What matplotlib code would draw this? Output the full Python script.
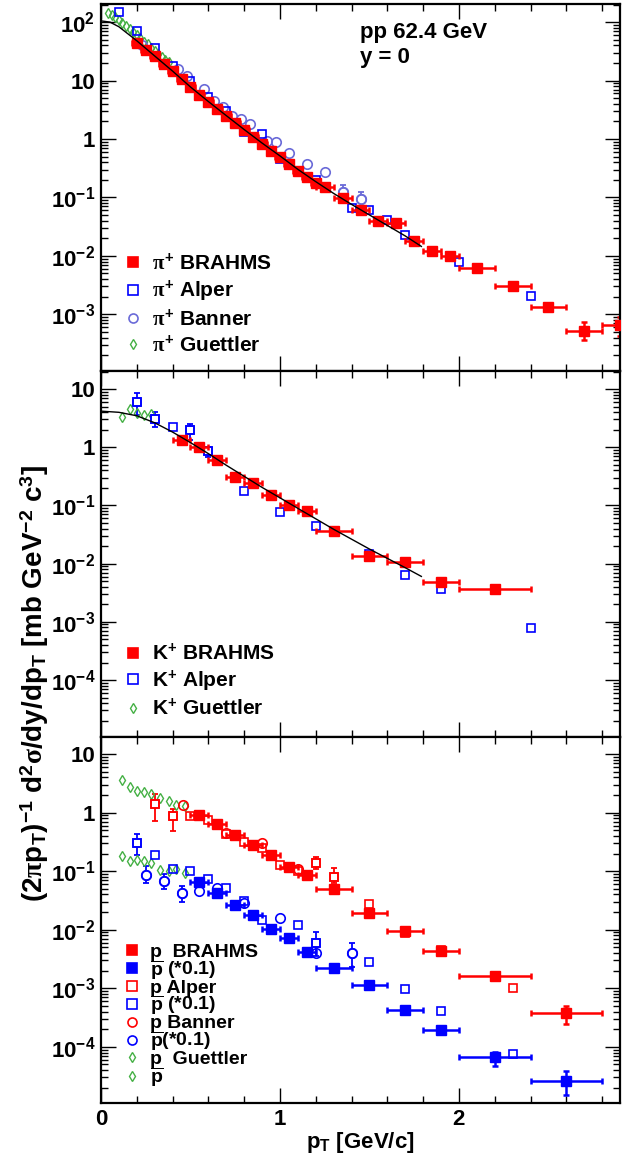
import math
import matplotlib
matplotlib.use("Agg")
import matplotlib.pyplot as plt
from matplotlib.ticker import LogLocator, MultipleLocator, FixedLocator, FuncFormatter, NullFormatter
from matplotlib.lines import Line2D

ROUGE = "#ff0000"
BLEU = "#0000ff"
BLEU_CLAIR = "#6a6ad8"
VERT = "#44b044"

####################################################################################
# pi+

pi_courbe_pt = [0.0, 0.05, 0.1, 0.15, 0.2, 0.3, 0.4, 0.5, 0.6, 0.7, 0.8, 0.9, 1.0, 1.1, 1.2, 1.3, 1.4, 1.5, 1.6, 1.7, 1.79]
pi_courbe_v  = [105, 100, 83.2, 63.1, 47.9, 26.3, 14.5, 7.76, 4.37, 2.51, 1.45, 0.851, 0.513, 0.302, 0.186, 0.117, 0.0759, 0.0501, 0.0331, 0.0219, 0.0145]

pi_brahms_pt = [0.20, 0.25, 0.30, 0.35, 0.40, 0.45, 0.50, 0.55, 0.60, 0.65, 0.70, 0.75, 0.80, 0.85, 0.90, 0.95,
                1.00, 1.05, 1.10, 1.15, 1.20, 1.25, 1.35, 1.45, 1.55, 1.65, 1.75, 1.85, 1.95, 2.1, 2.3, 2.5, 2.7, 2.9]
pi_brahms_v  = [43.6, 33.9, 26.3, 19.5, 14.5, 10.7, 7.76, 5.62, 4.27, 3.31, 2.45, 1.86, 1.41, 1.10, 0.832, 0.631,
                0.490, 0.372, 0.288, 0.224, 0.174, 0.151, 0.098, 0.0617, 0.0389, 0.0363, 0.0182, 0.0120, 0.0100,
                0.00617, 0.00309, 0.00132, 0.000525, 0.000646]
pi_brahms_dx = [0.025]*21 + [0.05]*8 + [0.1]*5
pi_brahms_bas  = [None]*32 + [0.000363, 0.000417]
pi_brahms_haut = [None]*32 + [0.000724, 0.00089]

pi_alper_pt = [0.1, 0.2, 0.3, 0.4, 0.5, 0.6, 0.7, 0.8, 0.9, 1.0, 1.2, 1.4, 1.5, 1.6, 1.7, 2.0, 2.4]
pi_alper_v  = [151, 70.8, 35.5, 17.8, 9.77, 5.13, 3.02, 1.32, 1.22, 0.457, 0.195, 0.0661, 0.0603, 0.0417, 0.0224, 0.00776, 0.00204]

pi_banner_pt = [0.23, 0.43, 0.48, 0.575, 0.63, 0.68, 0.73, 0.78, 0.83, 0.93, 0.98, 1.05, 1.15, 1.25, 1.35, 1.45]
pi_banner_v  = [39.8, 15.8, 12.0, 7.08, 4.47, 3.47, 2.51, 2.19, 1.82, 0.933, 0.871, 0.575, 0.372, 0.275, 0.126, 0.0933]
pi_banner_bas  = [None]*14 + [0.098, 0.072]
pi_banner_haut = [None]*14 + [0.162, 0.126]

pi_guettler_pt = [0.04, 0.06, 0.08, 0.10, 0.12, 0.14, 0.16, 0.18, 0.20, 0.22, 0.24, 0.26, 0.28, 0.30, 0.32, 0.34, 0.36, 0.38]
pi_guettler_v  = [141, 132, 120, 107, 95.5, 85.1, 75.9, 67.6, 60.3, 52.5, 45.7, 41.7, 36.3, 32.4, 28.8, 25.7, 22.9, 20.4]

####################################################################################
# K+

k_courbe_pt = [0.0, 0.1, 0.2, 0.3, 0.4, 0.5, 0.6, 0.7, 0.8, 0.9, 1.0, 1.1, 1.2, 1.3, 1.4, 1.5, 1.6, 1.7, 1.79]
k_courbe_v  = [4.17, 3.98, 3.47, 2.63, 1.82, 1.20, 0.776, 0.490, 0.316, 0.204, 0.135, 0.0891, 0.0589, 0.0389, 0.0263, 0.0178, 0.0123, 0.00851, 0.00603]

k_brahms_pt = [0.45, 0.55, 0.65, 0.75, 0.85, 0.95, 1.05, 1.15, 1.3, 1.5, 1.7, 1.9, 2.2]
k_brahms_v  = [1.32, 0.99, 0.603, 0.302, 0.240, 0.151, 0.100, 0.0794, 0.0363, 0.0135, 0.0105, 0.0049, 0.00372]
k_brahms_dx = [0.05]*8 + [0.1]*4 + [0.2]

k_alper_pt = [0.2, 0.3, 0.4, 0.5, 0.6, 0.8, 1.0, 1.2, 1.5, 1.7, 1.9, 2.4]
k_alper_v  = [6.03, 3.09, 2.19, 1.95, 0.871, 0.174, 0.0776, 0.0437, 0.0148, 0.00646, 0.00363, 0.000794]
k_alper_bas  = [3.55, 2.24, None, 1.35, 0.68] + [None]*7
k_alper_haut = [8.7, 3.98, None, 2.51, 1.0] + [None]*7

k_guettler_pt = [0.12, 0.16, 0.20, 0.24, 0.28]
k_guettler_v  = [3.3, 4.45, 3.8, 3.55, 3.7]

####################################################################################
# p et pbar (pbar * 0.1)

p_brahms_pt = [0.55, 0.65, 0.75, 0.85, 0.95, 1.05, 1.15, 1.3, 1.5, 1.7, 1.9, 2.2, 2.6]
p_brahms_v  = [0.891, 0.631, 0.417, 0.275, 0.191, 0.117, 0.0871, 0.0490, 0.0195, 0.00933, 0.00437, 0.00162, 0.00038]
p_brahms_dx = [0.05]*7 + [0.1]*4 + [0.2]*2
p_brahms_bas  = [None]*12 + [0.00025]
p_brahms_haut = [None]*12 + [0.00049]

pb_brahms_v = [0.0646, 0.0427, 0.0263, 0.0178, 0.0102, 0.00708, 0.00417, 0.00219, 0.00112, 0.000427, 0.000195, 6.6e-5, 2.57e-5]
pb_brahms_bas  = [None]*11 + [4.8e-5, 1.48e-5]
pb_brahms_haut = [None]*11 + [8.3e-5, 3.8e-5]

p_alper_pt = [0.3, 0.4, 0.5, 0.6, 0.7, 0.8, 0.9, 1.0, 1.1, 1.2, 1.3, 1.5, 1.7, 1.9, 2.3]
p_alper_v  = [1.38, 0.871, 0.871, 0.759, 0.437, 0.309, 0.251, 0.129, 0.100, 0.138, 0.0794, 0.0275, 0.0089, 0.00447, 0.00102]
p_alper_bas  = [0.708, 0.479] + [None]*7 + [0.107, 0.062] + [None]*4
p_alper_haut = [2.09, 1.15] + [None]*7 + [0.176, 0.114] + [None]*4

pb_alper_pt = [0.2, 0.3, 0.4, 0.5, 0.6, 0.7, 0.8, 0.9, 1.1, 1.2, 1.5, 1.7, 1.9, 2.3]
pb_alper_v  = [0.302, 0.186, 0.110, 0.100, 0.0724, 0.0525, 0.0309, 0.0145, 0.012, 0.00589, 0.00282, 0.000955, 0.000417, 7.6e-5]
pb_alper_bas  = [0.19] + [None]*8 + [0.0035] + [None]*4
pb_alper_haut = [0.437] + [None]*8 + [0.0091] + [None]*4

p_banner_pt = [0.46, 0.70, 0.90, 1.10]
p_banner_v  = [1.32, 0.447, 0.302, 0.110]

pb_banner_pt = [0.25, 0.35, 0.45, 0.55, 0.65, 0.80, 1.0, 1.2, 1.4]
pb_banner_v  = [0.0871, 0.0676, 0.0417, 0.0457, 0.0525, 0.0288, 0.0158, 0.00407, 0.00398]
pb_banner_bas  = [0.063, 0.050, 0.030] + [None]*5 + [0.0023]
pb_banner_haut = [0.120, 0.090, 0.056] + [None]*5 + [0.0060]

p_guettler_pt = [0.12, 0.16, 0.20, 0.24, 0.28, 0.33, 0.38, 0.42, 0.47]
p_guettler_v  = [3.63, 2.69, 2.29, 2.24, 2.04, 1.78, 1.58, 1.32, 1.29]
pb_guettler_v = [0.178, 0.148, 0.155, 0.148, 0.135, 0.105, 0.100, 0.107, 0.0912]

# graduations principales de chaque panneau
decades = [[1e-3, 1e-2, 1e-1, 1, 10, 100],
           [1e-4, 1e-3, 1e-2, 1e-1, 1, 10],
           [1e-4, 1e-3, 1e-2, 1e-1, 1, 10]]

####################################################################################

plt.rcParams['font.family'] = ['Liberation Sans', 'DejaVu Sans']
plt.rcParams['font.weight'] = 'bold'
plt.rcParams['mathtext.fontset'] = 'custom'
plt.rcParams['mathtext.rm'] = 'Liberation Sans:bold'
plt.rcParams['mathtext.bf'] = 'Liberation Sans:bold'
plt.rcParams['mathtext.it'] = 'Liberation Serif'

T_AXE = 16
T_LEG = 15

fig = plt.figure(figsize=(6.39, 11.55), dpi=100)
G, D = 101/639, 620/639
bords = [4, 371, 737, 1103]
axes = []
for i in range(3):
	haut, bas = 1 - bords[i]/1155, 1 - bords[i+1]/1155
	axes.append(fig.add_axes([G, bas, D-G, haut-bas]))
ax1, ax2, ax3 = axes


def barres(ax, x, y, bas, haut, c, lw=1.3):
	xs, ys, eb, eh = [], [], [], []
	for a, b, l, h in zip(x, y, bas, haut):
		if l is None:
			continue
		xs += [a]; ys += [b]; eb += [b-l]; eh += [h-b]
	if xs:
		ax.errorbar(xs, ys, yerr=[eb, eh], fmt='none', ecolor=c, elinewidth=lw, capsize=2.5, capthick=lw, zorder=2)


def brahms(ax, x, y, dx, c, bas=None, haut=None):
	ax.errorbar(x, y, xerr=dx, fmt='s', color=c, ms=6.8, elinewidth=1.8, capsize=2.5, capthick=1.8, zorder=5)
	if bas is not None:
		barres(ax, x, y, bas, haut, c, lw=1.8)


def ouverts(ax, x, y, m, c, ms=6.3, bas=None, haut=None, z=4):
	if bas is not None:
		barres(ax, x, y, bas, haut, c)
		xb = [a for a, l in zip(x, bas) if l is not None]
		yb = [b for b, l in zip(y, bas) if l is not None]
		ax.plot(xb, yb, m, ms=ms, mfc='white', mec=c, mew=1.2, ls='none', zorder=z)
	ax.plot(x, y, m, ms=ms, mfc='none', mec=c, mew=1.2, ls='none', zorder=z)


def losanges(ax, x, y):
	ax.plot(x, y, 'd', ms=5.5, mfc='none', mec=VERT, mew=1.0, ls='none', zorder=3)


# panneau 1
ax1.plot(pi_courbe_pt, pi_courbe_v, 'k-', lw=1.0, zorder=6)
losanges(ax1, pi_guettler_pt, pi_guettler_v)
ouverts(ax1, pi_banner_pt, pi_banner_v, 'o', BLEU_CLAIR, ms=6.8, bas=pi_banner_bas, haut=pi_banner_haut)
ouverts(ax1, pi_alper_pt, pi_alper_v, 's', BLEU)
brahms(ax1, pi_brahms_pt, pi_brahms_v, pi_brahms_dx, ROUGE, pi_brahms_bas, pi_brahms_haut)

# panneau 2
ax2.plot(k_courbe_pt, k_courbe_v, 'k-', lw=1.0, zorder=6)
losanges(ax2, k_guettler_pt, k_guettler_v)
ouverts(ax2, k_alper_pt, k_alper_v, 's', BLEU, bas=k_alper_bas, haut=k_alper_haut)
brahms(ax2, k_brahms_pt, k_brahms_v, k_brahms_dx, ROUGE)

# panneau 3
losanges(ax3, p_guettler_pt, p_guettler_v)
losanges(ax3, p_guettler_pt, pb_guettler_v)
ouverts(ax3, p_banner_pt, p_banner_v, 'o', ROUGE, ms=6.8)
ouverts(ax3, pb_banner_pt, pb_banner_v, 'o', BLEU, ms=6.8, bas=pb_banner_bas, haut=pb_banner_haut)
ouverts(ax3, p_alper_pt, p_alper_v, 's', ROUGE, bas=p_alper_bas, haut=p_alper_haut)
ouverts(ax3, pb_alper_pt, pb_alper_v, 's', BLEU, bas=pb_alper_bas, haut=pb_alper_haut)
brahms(ax3, p_brahms_pt, p_brahms_v, p_brahms_dx, ROUGE, p_brahms_bas, p_brahms_haut)
brahms(ax3, p_brahms_pt, pb_brahms_v, p_brahms_dx, BLEU, pb_brahms_bas, pb_brahms_haut)


def etiquette(v, pos):
	e = int(round(math.log10(v)))
	if e == 0:
		return "1"
	if e == 1:
		return "10"
	return r"$\mathregular{10^{%d}}$" % e


limites = [(1.07e-4, 204), (1.05e-5, 20.4), (1.1e-5, 19.5)]
for ax, lim, dec in zip(axes, limites, decades):
	ax.set_yscale('log')
	ax.set_ylim(*lim)
	ax.set_xlim(0, 2.9)
	ax.xaxis.set_major_locator(MultipleLocator(1))
	ax.xaxis.set_minor_locator(MultipleLocator(0.2))
	ax.yaxis.set_major_locator(FixedLocator(dec))
	ax.yaxis.set_minor_locator(LogLocator(base=10, subs=[2, 3, 4, 5, 6, 7, 8, 9], numticks=20))
	ax.yaxis.set_major_formatter(FuncFormatter(etiquette))
	ax.yaxis.set_minor_formatter(NullFormatter())
	ax.tick_params(which='both', direction='in', top=True, right=True, width=1.0)
	ax.tick_params(which='major', length=10.5, labelsize=T_AXE, pad=4)
	ax.tick_params(which='minor', length=5)
	for s in ax.spines.values():
		s.set_linewidth(1.6)
	if ax is not ax3:
		ax.tick_params(labelbottom=False)

ax3.set_xticks([0, 1, 2])
ax3.set_xticklabels(["0", "1", "2"])
ax3.tick_params(axis='x', pad=4)
ax3.set_xlabel(r"p$_{\mathregular{T}}$ [GeV/c]", fontsize=T_AXE, fontweight='bold', labelpad=0)

ax1.text(0.5, 0.921, "pp 62.4 GeV", transform=ax1.transAxes, fontsize=T_AXE, fontweight='bold', va='center', ha='left')
ax1.text(0.5, 0.853, "y = 0", transform=ax1.transAxes, fontsize=T_AXE, fontweight='bold', va='center', ha='left')

fig.text(35/639, 1 - 683/1155,
	r"$(2\pi\mathrm{p}_\mathrm{T})^{-1}\ \mathrm{d}^2\sigma\mathrm{/dy/dp}_\mathrm{T}\ [\mathrm{mb\ GeV}^{-2}\ \mathrm{c}^3]$",
	rotation=90, fontsize=20, ha='center', va='center')


def cle(m, c, plein):
	return Line2D([], [], marker=m, ls='none', color=c, mfc=c if plein else 'none', mec=c,
		ms=6.5 if m != 'd' else 5.5, mew=1.2 if m != 'd' else 1.0)


leg_kw = dict(loc='upper left', frameon=False, handlelength=0.8, handletextpad=0.5, borderaxespad=0)

ax1.legend([cle('s', ROUGE, True), cle('s', BLEU, False), cle('o', BLEU_CLAIR, False), cle('d', VERT, False)],
	[r"$\pi^{+}$ BRAHMS", r"$\pi^{+}$ Alper", r"$\pi^{+}$ Banner", r"$\pi^{+}$ Guettler"],
	bbox_to_anchor=(0.03, 0.344), labelspacing=0.25, fontsize=T_LEG, **leg_kw)

ax2.legend([cle('s', ROUGE, True), cle('s', BLEU, False), cle('d', VERT, False)],
	[r"K$^{+}$ BRAHMS", r"K$^{+}$ Alper", r"K$^{+}$ Guettler"],
	bbox_to_anchor=(0.03, 0.279), labelspacing=0.235, fontsize=T_LEG, **leg_kw)

pb = r"$\overline{\mathrm{p}}$"
ax3.legend([cle('s', ROUGE, True), cle('s', BLEU, True), cle('s', ROUGE, False), cle('s', BLEU, False),
	cle('o', ROUGE, False), cle('o', BLEU, False), cle('d', VERT, False), cle('d', VERT, False)],
	["p  BRAHMS", pb + " (*0.1)", "p Alper", pb + " (*0.1)", "p Banner", pb + "(*0.1)", "p  Guettler", pb],
	bbox_to_anchor=(0.03, 0.458), labelspacing=-0.14, fontsize=14, **leg_kw)

fig.savefig("out.png", dpi=100)
